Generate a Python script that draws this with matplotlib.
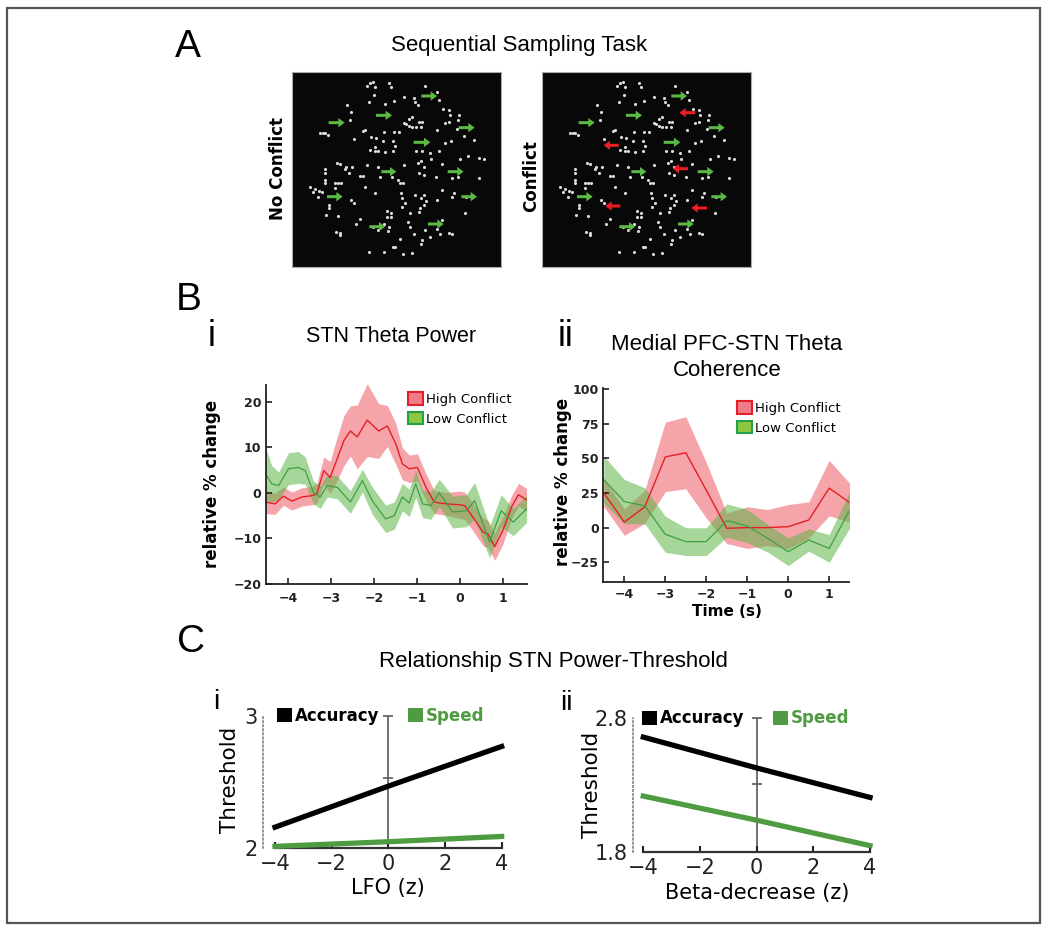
import numpy as np
import matplotlib
matplotlib.use("Agg")
import matplotlib.pyplot as plt
from matplotlib.patches import Patch, Rectangle

W, H = 1050, 934

# ---- A: stimulus (dot positions / arrows in stimulus units) ----
dot_pos = [(245,18),(255,10),(262,5),(268,22),(310,8),(318,22),(265,45),(252,65),(300,72),(325,62),
           (357,50),(385,55),(390,65),(397,75),(420,18),(455,35),(460,60),(472,88),(490,90),(495,105),
           (490,125),(478,130),(520,105),(518,120),(185,75),(197,95),(193,120),(105,160),(113,160),(120,160),
           (127,165),(233,152),(240,150),(205,178),(258,172),(272,175),(293,182),(322,182),(295,157),(325,157),
           (342,157),(355,130),(362,132),(372,138),(380,140),(370,118),(400,125),(410,125),(393,140),(380,112),
           (408,140),(455,150),(478,190),(497,182),(514,148),(535,168),(268,200),(255,210),(270,213),(278,213),
           (300,215),(330,198),(322,212),(393,213),(410,213),(435,218),(462,212),(523,238),(548,228),(155,248),
           (165,253),(178,268),(183,262),(190,280),(200,262),(245,255),(278,262),(357,255),(398,248),(408,242),
           (415,262),(437,237),(470,253),(120,268),(118,280),(118,300),(120,308),(225,288),(233,288),(283,292),
           (320,290),(338,300),(343,308),(353,310),(400,278),(415,285),(452,290),(500,295),(518,290),(75,320),
           (90,328),(100,332),(110,335),(82,335),(97,350),(148,310),(158,310),(168,310),(150,323),(240,322),
           (268,340),(348,338),(350,355),(358,368),(350,382),(390,345),(415,345),(408,355),(423,362),(415,375),
           (405,385),(470,330),(500,352),(505,340),(455,360),(540,398),(130,375),(132,385),(122,405),(158,408),
           (197,360),(205,368),(305,392),(318,400),(318,410),(305,412),(295,432),(310,440),(308,452),(278,450),
           (262,440),(212,433),(225,418),(375,398),(368,425),(373,440),(400,395),(470,420),(455,448),(490,460),
           (500,462),(418,450),(435,470),(387,462),(410,480),(408,492),(345,478),(152,455),(163,460),(165,465),
           (250,515),(295,517),(322,500),(330,500),(352,522),(380,520),(542,350),(465,462),(597,237),(581,234),
           (581,295),(565,180)]
green_x0 = [408, 272, 130, 385, 288, 487, 125, 520, 528, 252, 428]
green_x1 = [455, 320, 178, 435, 333, 535, 172, 568, 575, 300, 475]
green_y  = [48, 106, 128, 187, 275, 275, 350, 143, 350, 440, 432]
red_x0 = [480, 250, 458, 255, 515]
red_x1 = [432, 205, 412, 210, 468]
red_y  = [98, 196, 266, 378, 384]

# ---- B-i: STN theta power ----
t_hi = [-4.54,-4.30,-4.11,-3.91,-3.68,-3.45,-3.33,-3.17,-3.02,-2.90,-2.70,-2.55,-2.39,-2.16,-1.89,-1.69,
        -1.49,-1.34,-1.18,-0.99,-0.79,-0.60,-0.32,-0.01,0.11,0.30,0.54,0.65,0.81,1.00,1.20,1.36,1.55]
hi_mean = [-2.0,-2.4,-0.7,-1.8,-0.9,-0.6,-0.2,4.9,3.4,6.4,11.5,13.6,12.3,16.0,13.6,14.7,
           10.7,6.4,5.3,5.6,1.2,-2.0,-2.4,-2.6,-2.8,-5.3,-8.6,-9.0,-11.8,-8.2,-3.1,-0.4,-1.5]
hi_sem = [2.5,2.3,2.0,2.0,2.0,2.0,2.2,3.0,3.5,4.5,5.5,5.5,7.0,8.0,6.0,4.5,
          4.5,3.5,3.0,3.0,3.0,2.5,2.5,3.0,3.0,3.0,3.0,3.0,3.0,3.0,2.5,2.5,2.5]
t_lo = [-4.54,-4.38,-4.22,-3.99,-3.76,-3.60,-3.41,-3.25,-3.09,-2.85,-2.55,-2.27,-2.04,-1.73,
        -1.53,-1.34,-1.18,-1.03,-0.87,-0.68,-0.48,-0.17,0.15,0.34,0.69,0.96,1.24,1.55]
lo_mean = [4.5,2.0,1.6,5.3,5.6,4.9,0.1,-0.9,1.6,1.2,-2.0,2.7,-1.7,-5.7,
           -5.0,-0.9,-2.2,2.0,-2.4,-2.8,0.0,-4.2,-3.9,-1.7,-10.8,-3.9,-6.4,-3.5]
lo_sem = [6.0,4.0,3.0,3.5,3.5,3.0,2.5,2.5,2.5,2.5,2.5,2.5,3.0,3.0,
          3.0,3.0,3.0,3.0,3.0,3.0,3.0,3.5,3.5,4.0,3.5,3.5,3.0,3.0]

# ---- B-ii: medial PFC-STN theta coherence ----
t_coh = [-4.5,-4.0,-3.5,-3.0,-2.5,-2.0,-1.5,-1.0,-0.5,0.0,0.5,1.0,1.5]
hi_coh = [25,4,15,51,54,27,-0.5,0,0,0.7,5.5,28.5,18]
hi_coh_sem = [10,9.5,12,25,26,20,11,15,13,16,13,20,14]
lo_coh = [34.5,18.8,15.7,-4.8,-10.1,-10.1,5.1,1.2,-7.7,-17.4,-8.9,-15,12.8]
lo_coh_sem = [17,16,13,13,10,10,12,12,10,10,8,10,13]

# ---- C: threshold regressions ----
z = [-4, 0, 4]
acc_lfo = [2.16, 2.47, 2.77]
spd_lfo = [2.015, 2.05, 2.09]
acc_beta = [2.66, 2.43, 2.21]
spd_beta = [2.22, 2.04, 1.85]

RED = "#e51e27"
RED_FILL = "#ef6a70"
GREEN = "#3f9f45"
GREEN_FILL = "#5fb548"
ARROW_GREEN = "#5cb946"
ARROW_RED = "#ee1c24"
C_GREEN = "#4f9b42"
TITLE_FONT = "Liberation Sans"

fig = plt.figure(figsize=(W / 100, H / 100), dpi=100)


def px_box(x0, y0, x1, y1):
    return [x0 / W, 1 - y1 / H, (x1 - x0) / W, (y1 - y0) / H]


def ftext(x, y, s, **kw):
    kw.setdefault("ha", "center")
    kw.setdefault("va", "center")
    fig.text(x / W, 1 - y / H, s, **kw)


fig.add_artist(Rectangle((7 / W, 1 - 923 / H), 1033 / W, 915 / H, transform=fig.transFigure,
                         fill=False, ec="#555555", lw=1.6))

# ---------------- Panel A ----------------
ftext(188, 47, "A", fontsize=28, family=TITLE_FONT)
ftext(519, 46, "Sequential Sampling Task", fontsize=16, family=TITLE_FONT)

dx, dy = zip(*dot_pos)
for left, label, lx, ly, conflict in [(292, "No Conflict", 278, 168, False),
                                      (542, "Conflict", 531, 176, True)]:
    ax = fig.add_axes(px_box(left, 72, left + 209, 267))
    ax.set_facecolor("#080808")
    ax.set_xlim(20, 647)
    ax.set_ylim(561, -24)
    ax.set_xticks([])
    ax.set_yticks([])
    for sp in ax.spines.values():
        sp.set_color("#aaaaaa")
        sp.set_linewidth(0.8)
    ax.scatter(dx, dy, s=5, c="#dcdcdc", lw=0)
    for a, b, y in zip(green_x0, green_x1, green_y):
        ax.arrow(a, y, b - a, 0, width=9, head_width=28, head_length=19,
                 length_includes_head=True, color=ARROW_GREEN, lw=0)
    if conflict:
        for a, b, y in zip(red_x0, red_x1, red_y):
            ax.arrow(a, y, b - a, 0, width=9, head_width=28, head_length=19,
                     length_includes_head=True, color=ARROW_RED, lw=0)
    ftext(lx, ly, label, rotation=90, fontsize=12, fontweight="bold")

# ---------------- Panel B ----------------
ftext(189, 300, "B", fontsize=28, family=TITLE_FONT)
ftext(212, 336, "i", fontsize=26, family=TITLE_FONT)
ftext(566, 336, "ii", fontsize=26, family=TITLE_FONT)
ftext(391, 337, "STN Theta Power", fontsize=15.5, family=TITLE_FONT)
ftext(727, 345, "Medial PFC-STN Theta", fontsize=16, family=TITLE_FONT)
ftext(727, 370, "Coherence", fontsize=16, family=TITLE_FONT)


def style_b(ax, xpad):
    for s in ["top", "right"]:
        ax.spines[s].set_visible(False)
    for s in ["left", "bottom"]:
        ax.spines[s].set_linewidth(1.3)
        ax.spines[s].set_color("#222222")
    ax.tick_params(direction="in", length=4, width=1.2, labelsize=9, colors="#222222")
    ax.tick_params(axis="x", pad=xpad)
    ax.tick_params(axis="y", pad=3)
    for lb in ax.get_xticklabels() + ax.get_yticklabels():
        lb.set_fontweight("bold")


def legend_b(ax, x, y):
    handles = [Patch(fc="#f07c88", ec="#e3202a", lw=1.5, label="High Conflict"),
               Patch(fc="#8dc63f", ec="#22a04a", lw=1.5, label="Low Conflict")]
    ax.legend(handles=handles, loc="upper left", bbox_to_anchor=(x / W, 1 - y / H),
              bbox_transform=fig.transFigure, frameon=False, fontsize=9.5,
              handlelength=1.1, handleheight=1.1, handletextpad=0.25,
              labelspacing=0.45, borderpad=0, borderaxespad=0)


ax = fig.add_axes(px_box(265.7, 385, 527, 584))
m, s = np.array(hi_mean), np.array(hi_sem)
ax.fill_between(t_hi, m - s, m + s, color=RED_FILL, alpha=0.6, lw=0)
m2, s2 = np.array(lo_mean), np.array(lo_sem)
ax.fill_between(t_lo, m2 - s2, m2 + s2, color=GREEN_FILL, alpha=0.55, lw=0)
ax.plot(t_hi, hi_mean, color=RED, lw=1.0)
ax.plot(t_lo, lo_mean, color=GREEN, lw=0.9)
ax.set_xlim(-4.52, 1.56)
ax.set_ylim(-20, 23.7)
ax.set_xticks([-4, -3, -2, -1, 0, 1])
ax.set_yticks([-20, -10, 0, 10, 20])
style_b(ax, 6)
legend_b(ax, 408, 392)
ftext(212, 484, "relative % change", rotation=90, fontsize=12, fontweight="bold")

ax = fig.add_axes(px_box(603, 388, 849.3, 581.7))
m, s = np.array(hi_coh), np.array(hi_coh_sem)
ax.fill_between(t_coh, m - s, m + s, color=RED_FILL, alpha=0.6, lw=0)
m2, s2 = np.array(lo_coh), np.array(lo_coh_sem)
ax.fill_between(t_coh, m2 - s2, m2 + s2, color=GREEN_FILL, alpha=0.55, lw=0)
ax.plot(t_coh, hi_coh, color=RED, lw=1.0)
ax.plot(t_coh, lo_coh, color=GREEN, lw=0.9)
ax.set_xlim(-4.52, 1.49)
ax.set_ylim(-39, 100.7)
ax.set_xticks([-4, -3, -2, -1, 0, 1])
ax.set_yticks([-25, 0, 25, 50, 75, 100])
style_b(ax, 4.5)
legend_b(ax, 737, 401)
ftext(563, 482, "relative % change", rotation=90, fontsize=12, fontweight="bold")
ftext(727, 611, "Time (s)", fontsize=11, fontweight="bold")

# ---------------- Panel C ----------------
ftext(191, 642, "C", fontsize=28, family=TITLE_FONT)
ftext(553, 662, "Relationship STN Power-Threshold", fontsize=16, family=TITLE_FONT)
ftext(216, 702, "i", fontsize=20, family=TITLE_FONT)
ftext(566, 703, "ii", fontsize=20, family=TITLE_FONT)


def c_panel(rect, xlim, ylim, y_lo, y_hi, dot_x, acc, spd, mark, yticks, yticklabels, leg_xy):
    ax = fig.add_axes(px_box(*rect))
    ax.set_xlim(xlim)
    ax.set_ylim(ylim)
    ax.vlines(0, y_lo, y_hi, color="#666666", lw=1.3, zorder=1)
    ax.plot([0, 0], [mark, y_hi], ls="none", marker="_", ms=7, mew=1.3, color="#666666", zorder=1)
    ax.plot(z, acc, color="black", lw=3.8, zorder=3)
    ax.plot(z, spd, color=C_GREEN, lw=3.8, zorder=3)
    for sp in ["top", "right"]:
        ax.spines[sp].set_visible(False)
    ax.spines["left"].set_position(("data", dot_x))
    ax.spines["left"].set_bounds(y_lo, y_hi)
    ax.spines["left"].set_linestyle(":")
    ax.spines["left"].set_color("#777777")
    ax.spines["left"].set_linewidth(1.1)
    ax.spines["bottom"].set_position(("data", y_lo))
    ax.spines["bottom"].set_bounds(-4, 4)
    ax.spines["bottom"].set_color("#333333")
    ax.spines["bottom"].set_linewidth(1.6)
    ax.set_xticks([-4, -2, 0, 2, 4])
    ax.set_yticks(yticks)
    ax.set_yticklabels(yticklabels)
    ax.tick_params(axis="x", direction="in", length=4, width=1.5, labelsize=15, pad=4, colors="#222222")
    ax.tick_params(axis="y", length=0, labelsize=15, pad=4, colors="#222222")
    ax.set_facecolor("none")
    handles = [Patch(fc="black", label="Accuracy"), Patch(fc=C_GREEN, label="Speed")]
    leg = ax.legend(handles=handles, ncol=2, loc="center left", bbox_to_anchor=leg_xy,
                    bbox_transform=ax.transData, frameon=False,
                    prop=dict(weight="bold", size=12), handlelength=0.9, handleheight=0.9,
                    handletextpad=0.2, columnspacing=1.7, borderpad=0, borderaxespad=0)
    leg.get_texts()[1].set_color(C_GREEN)
    return ax


c_panel((255, 700, 505, 860), (-4.706, 4.118), (1.912, 3.121), 2, 3, -4.41,
        acc_lfo, spd_lfo, 2.53, [2, 3], ["2", "3"], (-3.94, 3.0))
ftext(230, 780, "Threshold", rotation=90, fontsize=15.5)
ftext(388, 888, "LFO (z)", fontsize=15)

c_panel((625, 700, 875, 860), (-4.646, 4.176), (1.743, 2.937), 1.8, 2.8, -4.37,
        acc_beta, spd_beta, 2.31, [1.8, 2.8], ["1.8", "2.8"], (-4.06, 2.8))
ftext(592, 785, "Threshold", rotation=90, fontsize=15.5)
ftext(757, 893, "Beta-decrease (z)", fontsize=15)

fig.savefig("out.png", dpi=100)
